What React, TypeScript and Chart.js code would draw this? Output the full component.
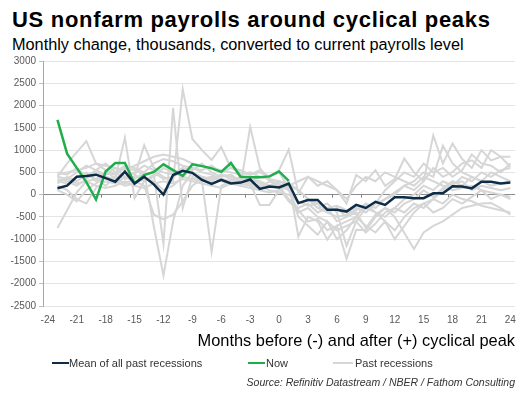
import React, { useEffect, useRef } from "react";
import { Chart, registerables } from "chart.js";
Chart.register(...registerables);

// Categories: months relative to cyclical peak
const MONTHS = [
  "-24", "-23", "-22", "-21", "-20", "-19", "-18", "-17", "-16", "-15", "-14", "-13", "-12",
  "-11", "-10", "-9", "-8", "-7", "-6", "-5", "-4", "-3", "-2", "-1", "0",
  "1", "2", "3", "4", "5", "6", "7", "8", "9", "10", "11", "12",
  "13", "14", "15", "16", "17", "18", "19", "20", "21", "22", "23", "24",
];

const Y_TICKS = [-2500, -2000, -1500, -1000, -500, 0, 500, 1000, 1500, 2000, 2500, 3000];

// Mean of all past recessions (month -24 .. 24)
const MEAN = [
  null, 145, 200, 400, 420, 448, 370, 290, 515, 250, 400, 230, 0,
  440, 535, 490, 330, 240, 330, 250, 270, 340, 130, 180, 160,
  250, -190, -120, -120, -340, -340, -380, -230, -300, -160, -230, -60,
  -60, -80, -80, 30, 30, 190, 180, 140, 290, 290, 250, 270,
];

// Now (month -24 .. 1)
const NOW = [
  null, 1680, 920, 600, 280, -110, 520, 710, 710, 250, 440, 510, 680,
  550, 420, 680, 640, 590, 510, 710, 400, 390, 390, 410, 520,
  310,
];

// Past recessions
const PAST_1 = [
  null, 400, 350, 500, 650, 550, 450, 600, 400, 500, 650, 550, 400,
  300, 2370, 1250, 1000, 780, 1070, 600, 500, 450, 550, 400, 550,
  1010, 30, 400, 200, 300, 100, -200, 440, 300, 550, 200, 350,
  810, 500, 300, 600, 400, 510, 700, 770, 600, 1000, 850, 620,
];
const PAST_2 = [
  null, -750, -350, 50, 300, 350, 200, 400, 250, 350, 500, -715, -1815,
  -600, 200, 500, 400, 300, 450, 350, 300, 250, -230, -230, 100,
  300, -940, -500, -600, -1010, -700, -1440, -790, -800, -500, -300, -400,
  -200, -100, 100, -50, 150, 300, 200, 400, 300, 500, 400, 300,
];
const PAST_3 = [
  null, 400, 700, 950, 1200, 700, 550, 350, 1280, -80, 300, 450, -1100,
  1950, -300, 400, 300, -1290, 200, 300, 200, 1520, 600, 300, 200,
  -100, -300, -200, -400, -300, -600, -500, -400, -750, -450, -300, -500,
  -860, -1220, -850, -700, -600, -450, -300, -250, -200, -190, -300, -450,
];
const PAST_4 = [
  null, 300, 250, 400, 500, 300, 450, 500, 350, 400, 1110, 600, 500,
  450, 600, 550, 700, 500, 400, 450, 300, 350, 300, 200, 300,
  250, 100, -100, -300, -400, -300, -500, -350, -200, -300, -100, 0,
  200, 100, 300, 1330, 700, 1145, 800, 600, 1000, 770, 850, 850,
];
const PAST_5 = [
  null, 200, 100, -100, -200, 150, 300, 250, 400, 300, 200, -450, -550,
  -450, -150, 200, 350, 400, 300, 250, 350, 300, 400, 350, 150,
  -150, -350, -600, -550, -800, -700, -600, -500, -700, -850, -600, -1000,
  -700, -400, -200, -100, 100, 250, 300, 100, 200, 150, 100, 150,
];
const PAST_6 = [
  null, 450, 500, 550, 600, 700, 650, 600, 550, 650, 750, 850, 900,
  850, 800, 700, 650, 600, 550, 500, 450, 500, 400, 350, 300,
  200, 100, -100, -200, -400, -500, -450, -300, -400, -200, -100, 50,
  200, 300, 500, 400, 1100, 700, 500, 400, 300, 200, 250, 300,
];
const PAST_7 = [
  null, 350, 300, 200, 350, 500, 400, 300, 200, 250, 350, 300, 100,
  200, 400, 600, 500, 450, 350, 300, 250, 200, 150, 300, 250,
  100, -200, -100, -300, -200, -400, -1150, -600, -300, -200, 100, 300,
  500, 400, 700, 500, 600, 400, 550, 900, 700, 650, 500, 700,
];
const PAST_8 = [
  null, 250, 400, 300, 450, 350, 500, 450, 600, 550, 450, 500, 350,
  400, 550, 450, 400, 350, 450, 400, 300, 250, 200, 100, 50,
  0, -150, -250, -200, -300, -250, -350, -450, -300, -400, -500, -300,
  -400, -200, -300, -100, -200, 0, -100, -150, -250, -300, -350, -400,
];
const PAST_9 = [
  null, 300, 350, 250, 300, 200, 150, 200, 300, 200, 150, 250, 300,
  250, 350, 300, 250, 200, 150, 250, 200, 150, 100, 50, 100,
  200, 300, 400, 300, 200, 100, -100, 200, 400, 300, 500, 400,
  300, 200, 400, 300, 200, 100, 150, 200, 100, 50, 0, -50,
];
const PAST_10 = [
  null, 100, 0, -150, 100, 250, 400, 350, 500, 450, 300, 400, 600,
  500, 400, 350, 300, 400, 350, 300, 400, 350, 250, 200, 200,
  100, -400, -300, -500, -600, -800, -700, -600, -850, -650, -400, -300,
  -100, 0, 200, 100, 300, 200, 400, 300, 500, 400, 550, 600,
];
const PAST_11 = [
  null, 500, 450, 600, 400, 550, 700, 500, 650, 600, 500, 700, 800,
  750, 650, 600, 550, 650, 500, 600, 550, 450, 500, 400, 500,
  150, -500, -700, -900, -600, -1000, -800, -500, -200, -400, -600, -800,
  -500, -300, -200, -400, -300, -100, -200, -50, 100, -100, 0, -100,
];
const PAST = [PAST_1, PAST_2, PAST_3, PAST_4, PAST_5, PAST_6, PAST_7, PAST_8, PAST_9, PAST_10, PAST_11];

const FONT = "'Liberation Sans', Arial, sans-serif";
const NAVY = "#0d2c47";
const GREEN = "#1fae4b";
const GREY = "#d6d6d6";

const zeroTicks = {
  id: "zeroTicks",
  beforeDatasetsDraw(chart: any) {
    const x = chart.scales.x;
    const y = chart.scales.y;
    const y0 = y.getPixelForValue(0);
    const ctx = chart.ctx;
    ctx.save();
    ctx.strokeStyle = "#7f7f7f";
    ctx.lineWidth = 1;
    for (let i = 2; i < MONTHS.length - 1; i += 3) {
      const xp = (x.getPixelForValue(i) + x.getPixelForValue(i + 1)) / 2;
      ctx.beginPath();
      ctx.moveTo(Math.round(xp) + 0.5, y0);
      ctx.lineTo(Math.round(xp) + 0.5, y0 + 3);
      ctx.stroke();
    }
    ctx.restore();
  },
};

export default function App() {
  const ref = useRef<HTMLCanvasElement>(null);
  useEffect(() => {
    const past = PAST.map((d) => ({
      label: "Past recessions",
      data: d,
      borderColor: GREY,
      backgroundColor: GREY,
      borderWidth: 2,
      pointRadius: 0,
      tension: 0,
    }));
    const chart = new Chart(ref.current as HTMLCanvasElement, {
      type: "line",
      data: {
        labels: MONTHS,
        datasets: [
          { label: "Mean of all past recessions", data: MEAN, borderColor: NAVY, backgroundColor: NAVY, borderWidth: 2.5, pointRadius: 0, tension: 0 },
          { label: "Now", data: NOW, borderColor: GREEN, backgroundColor: GREEN, borderWidth: 2.5, pointRadius: 0, tension: 0 },
          ...past,
        ] as any,
      },
      options: {
        animation: false,
        responsive: false,
        maintainAspectRatio: false,
        layout: { padding: { top: 8, right: 7, left: 0, bottom: 0 } },
        plugins: { legend: { display: false }, tooltip: { enabled: false } },
        scales: {
          x: {
            type: "category",
            offset: true,
            grid: { display: false, drawTicks: false },
            border: { display: false },
            ticks: {
              autoSkip: false,
              maxRotation: 0,
              minRotation: 0,
              padding: 8,
              color: "#595959",
              font: { family: FONT, size: 10 },
              callback: (_v: any, i: number) => (i % 3 === 0 ? MONTHS[i] : ""),
            },
            afterFit: (s: any) => {
              s.height = 26;
            },
          },
          y: {
            min: -2500,
            max: 3000,
            afterBuildTicks: (s: any) => {
              s.ticks = Y_TICKS.map((v) => ({ value: v }));
            },
            ticks: {
              padding: 3,
              color: "#595959",
              font: { family: FONT, size: 10 },
              callback: (v: any) => String(v),
            },
            grid: {
              color: (c: any) => (c.tick && c.tick.value === 0 ? "#8c8c8c" : "#e4e4e4"),
              tickLength: 4,
              tickColor: "#bfbfbf",
            },
            border: { color: "#a6a6a6" },
            afterFit: (s: any) => {
              s.width = 43;
            },
          },
        },
      } as any,
      plugins: [zeroTicks],
    });
    return () => chart.destroy();
  }, []);

  const abs = (o: any) => ({ position: "absolute" as const, whiteSpace: "nowrap" as const, fontFamily: FONT, ...o });
  const legendLine = (color: string, left: number, width: number) => (
    <div style={{ position: "absolute", left, top: 362, width, height: 2, background: color }} />
  );

  return (
    <div style={{ position: "absolute", left: 0, top: 0, width: 524, height: 396, background: "#fff", overflow: "hidden" }}>
      <div style={abs({ left: 12, top: 6, fontSize: 22, fontWeight: "bold", letterSpacing: "0.7px", color: "#000", lineHeight: "28px" })}>
        US nonfarm payrolls around cyclical peaks
      </div>
      <div style={abs({ left: 12, top: 34, fontSize: 16.3, color: "#000", lineHeight: "20px" })}>
        Monthly change, thousands, converted to current payrolls level
      </div>
      <canvas ref={ref} width={524} height={280} style={{ position: "absolute", left: 0, top: 52, width: 524, height: 280 }} />
      <div style={abs({ right: 9, top: 330, fontSize: 16.4, color: "#000", lineHeight: "20px" })}>
        Months before (-) and after (+) cyclical peak
      </div>
      {legendLine(NAVY, 52, 17)}
      <div style={abs({ left: 69, top: 356, fontSize: 11, color: "#333", lineHeight: "14px" })}>Mean of all past recessions</div>
      {legendLine(GREEN, 248, 17)}
      <div style={abs({ left: 266, top: 356, fontSize: 11, color: "#333", lineHeight: "14px" })}>Now</div>
      {legendLine(GREY, 333, 20)}
      <div style={abs({ left: 355, top: 356, fontSize: 11, color: "#333", lineHeight: "14px" })}>Past recessions</div>
      <div style={abs({ right: 9, top: 375, fontSize: 10.5, fontStyle: "italic", color: "#333", lineHeight: "14px" })}>
        Source: Refinitiv Datastream / NBER / Fathom Consulting
      </div>
    </div>
  );
}
